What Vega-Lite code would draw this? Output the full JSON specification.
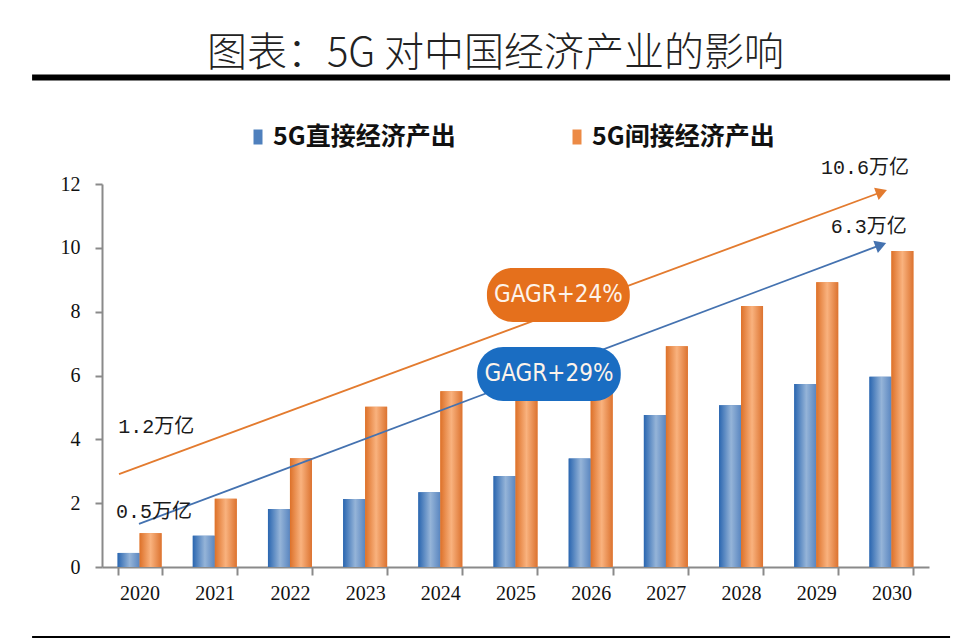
{
  "$schema": "https://vega.github.io/schema/vega-lite/v6.json",
  "autosize": "none",
  "width": 827,
  "height": 383,
  "padding": {"left": 102, "top": 184, "right": 42, "bottom": 72},
  "background": "white",
  "title": {
    "text": "图表：5G 对中国经济产业的影响",
    "font": "Noto Sans CJK SC",
    "fontSize": 40,
    "fontWeight": 300,
    "color": "#222222",
    "anchor": "middle",
    "baseline": "middle",
    "offset": -20,
    "dx": -20
  },
  "config": {"view": {"stroke": null}},
  "datasets": {
    "bars": [
      {"year": "2020", "series": "5G直接经济产出", "value": 0.44},
      {"year": "2021", "series": "5G直接经济产出", "value": 0.98},
      {"year": "2022", "series": "5G直接经济产出", "value": 1.82},
      {"year": "2023", "series": "5G直接经济产出", "value": 2.13},
      {"year": "2024", "series": "5G直接经济产出", "value": 2.34},
      {"year": "2025", "series": "5G直接经济产出", "value": 2.85},
      {"year": "2026", "series": "5G直接经济产出", "value": 3.4},
      {"year": "2027", "series": "5G直接经济产出", "value": 4.76},
      {"year": "2028", "series": "5G直接经济产出", "value": 5.07},
      {"year": "2029", "series": "5G直接经济产出", "value": 5.73},
      {"year": "2030", "series": "5G直接经济产出", "value": 5.96},
      {"year": "2020", "series": "5G间接经济产出", "value": 1.06},
      {"year": "2021", "series": "5G间接经济产出", "value": 2.14},
      {"year": "2022", "series": "5G间接经济产出", "value": 3.41},
      {"year": "2023", "series": "5G间接经济产出", "value": 5.02},
      {"year": "2024", "series": "5G间接经济产出", "value": 5.51},
      {"year": "2025", "series": "5G间接经济产出", "value": 5.9},
      {"year": "2026", "series": "5G间接经济产出", "value": 6.35},
      {"year": "2027", "series": "5G间接经济产出", "value": 6.92},
      {"year": "2028", "series": "5G间接经济产出", "value": 8.18},
      {"year": "2029", "series": "5G间接经济产出", "value": 8.92},
      {"year": "2030", "series": "5G间接经济产出", "value": 9.9}
    ],
    "arrows": [
      {"series": "direct", "xq": 0.492, "y": 1.35, "end": false},
      {"series": "direct", "xq": 10.36, "y": 10.09, "end": true},
      {"series": "indirect", "xq": 0.226, "y": 2.91, "end": false},
      {"series": "indirect", "xq": 10.37, "y": 11.75, "end": true}
    ],
    "notes": [
      {"text": "10.6万亿", "xq": 10.15, "y": 12.5},
      {"text": "6.3万亿", "xq": 10.2, "y": 10.65},
      {"text": "1.2万亿", "xq": 0.72, "y": 4.39},
      {"text": "0.5万亿", "xq": 0.69, "y": 1.72}
    ],
    "boxes": [
      {"series": "indirect", "text": "GAGR+24%", "x1": 5.12, "x2": 7.02, "y1": 7.68, "y2": 9.37, "xc": 6.07, "yc": 8.52},
      {"series": "direct", "text": "GAGR+29%", "x1": 4.99, "x2": 6.9, "y1": 5.2, "y2": 6.89, "xc": 5.945, "yc": 6.05}
    ],
    "frame": [
      {"x1": -0.93, "x2": 11.28, "y": 15.34, "kind": "top"},
      {"x1": -0.93, "x2": 11.28, "y": -2.19, "kind": "bottom"}
    ]
  },
  "layer": [
    {
      "data": {"name": "bars"},
      "encoding": {
        "x": {
          "field": "year", "type": "nominal",
          "scale": {"paddingInner": 0.415, "paddingOuter": 0.2075},
          "axis": {
            "title": null, "labelAngle": 0, "labelFont": "Liberation Serif", "labelFontSize": 20,
            "labelColor": "#111111", "labelPadding": 8, "tickBand": "extent", "tickSize": 8,
            "tickColor": "#8a8a8a", "tickWidth": 2, "domainColor": "#8a8a8a", "domainWidth": 2
          }
        },
        "xOffset": {"field": "series", "type": "nominal", "scale": {"domain": ["5G直接经济产出", "5G间接经济产出"], "paddingInner": 0, "paddingOuter": 0}},
        "y": {
          "field": "value", "type": "quantitative",
          "scale": {"domain": [0, 12], "nice": false},
          "axis": {
            "title": null, "values": [0, 2, 4, 6, 8, 10, 12], "grid": false,
            "labelFont": "Liberation Serif", "labelFontSize": 20, "labelColor": "#111111",
            "labelPadding": 15, "tickSize": 7, "tickColor": "#8a8a8a", "tickWidth": 2,
            "domainColor": "#8a8a8a", "domainWidth": 2
          }
        }
      },
      "layer": [
        {
          "mark": {"type": "bar"},
          "encoding": {
            "fill": {
              "field": "series", "type": "nominal",
              "scale": {"domain": ["5G直接经济产出", "5G间接经济产出"], "range": ["#4f80bd", "#ec8a45"]},
              "legend": {
                "title": null, "orient": "none", "direction": "horizontal",
                "legendX": 141, "legendY": -62,
                "symbolType": "M-0.3,-0.5H0.3V0.5H-0.3Z", "symbolSize": 900, "symbolStrokeWidth": 0,
                "labelFont": "Noto Sans CJK SC", "labelFontWeight": "bold", "labelFontSize": 25,
                "labelColor": "#111111", "labelOffset": 0, "columnPadding": 106, "labelLimit": 400
              }
            }
          }
        },
        {
          "mark": {"type": "bar"},
          "encoding": {
            "fill": {
              "condition": {
                "test": "datum.series === '5G直接经济产出'",
                "value": {"gradient": "linear", "x1": 0, "x2": 1, "y1": 0, "y2": 0,
                  "stops": [{"offset": 0, "color": "#2a66b0"}, {"offset": 0.55, "color": "#95b4d8"}, {"offset": 1, "color": "#5a86c0"}]}
              },
              "value": {"gradient": "linear", "x1": 0, "x2": 1, "y1": 0, "y2": 0,
                "stops": [{"offset": 0, "color": "#dd7129"}, {"offset": 0.5, "color": "#f9b27e"}, {"offset": 1, "color": "#dc7330"}]}
            }
          }
        }
      ]
    },
    {
      "layer": [
        {
          "data": {"name": "frame"},
          "mark": {"type": "rule", "color": "#000000"},
          "encoding": {
            "x": {"field": "x1", "type": "quantitative", "scale": {"domain": [0, 11], "nice": false, "zero": false}, "axis": null},
            "x2": {"field": "x2"},
            "y": {"field": "y", "type": "quantitative"},
            "strokeWidth": {"field": "kind", "type": "nominal", "scale": {"domain": ["top", "bottom"], "range": [6, 2]}, "legend": null}
          }
        },
        {
          "data": {"name": "arrows"},
          "mark": {"type": "line", "strokeWidth": 1.8},
          "encoding": {
            "x": {"field": "xq", "type": "quantitative"},
            "y": {"field": "y", "type": "quantitative"},
            "stroke": {"field": "series", "type": "nominal", "scale": {"domain": ["direct", "indirect"], "range": ["#4472b0", "#e37b2f"]}, "legend": null}
          }
        },
        {
          "data": {"name": "arrows"},
          "transform": [{"filter": "datum.end"}],
          "mark": {"type": "point", "shape": "triangle-right", "filled": true, "size": 170, "angle": 339.6, "opacity": 1},
          "encoding": {
            "x": {"field": "xq", "type": "quantitative"},
            "y": {"field": "y", "type": "quantitative"},
            "color": {"field": "series", "type": "nominal", "scale": {"domain": ["direct", "indirect"], "range": ["#4472b0", "#e37b2f"]}, "legend": null}
          }
        },
        {
          "data": {"name": "notes"},
          "mark": {"type": "text", "font": "Liberation Mono, Noto Sans CJK SC", "fontSize": 20, "color": "#1a1a1a", "align": "center", "baseline": "middle"},
          "encoding": {
            "x": {"field": "xq", "type": "quantitative"},
            "y": {"field": "y", "type": "quantitative"},
            "text": {"field": "text"}
          }
        },
        {
          "data": {"name": "boxes"},
          "mark": {"type": "rect", "cornerRadius": 26},
          "encoding": {
            "x": {"field": "x1", "type": "quantitative"},
            "x2": {"field": "x2"},
            "y": {"field": "y1", "type": "quantitative"},
            "y2": {"field": "y2"},
            "fill": {"field": "series", "type": "nominal", "scale": {"domain": ["direct", "indirect"], "range": ["#1a6dc2", "#e5701c"]}, "legend": null}
          }
        },
        {
          "data": {"name": "boxes"},
          "mark": {"type": "text", "font": "DejaVu Sans Condensed, Roboto, sans-serif", "fontSize": 24, "color": "#fdf3ea", "align": "center", "baseline": "middle"},
          "encoding": {
            "x": {"field": "xc", "type": "quantitative"},
            "y": {"field": "yc", "type": "quantitative"},
            "text": {"field": "text"}
          }
        }
      ]
    }
  ],
  "resolve": {"scale": {"x": "independent", "fill": "independent"}, "axis": {"x": "independent"}}
}
